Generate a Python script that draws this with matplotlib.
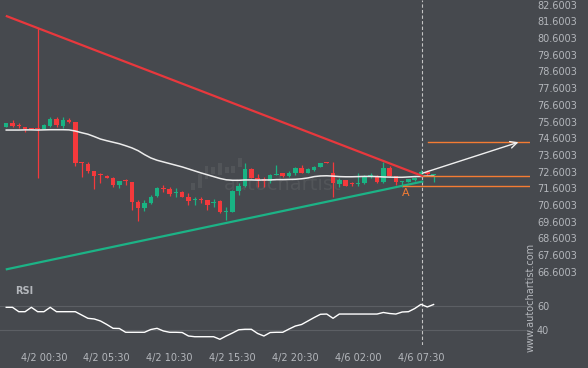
import matplotlib.pyplot as plt

# ---- data ----
opens = [75.29, 75.49, 75.37, 75.25, 75.21, 75.21, 75.13, 75.35, 75.73, 75.35,
         75.69, 75.57, 73.16, 73.06, 72.64, 72.46, 72.35, 72.22, 71.80, 72.08,
         71.98, 70.80, 70.40, 70.70, 71.14, 71.64, 71.54, 71.30, 71.38, 71.06,
         70.92, 70.93, 70.90, 70.70, 70.84, 70.20, 70.20, 71.46, 71.74, 72.76,
         72.20, 72.14, 72.05, 72.41, 72.50, 72.34, 72.53, 72.83, 72.53, 72.68,
         72.89, 73.15, 72.53, 71.86, 72.10, 71.90, 71.86, 71.90, 72.35, 72.34,
         72.00, 72.80, 72.34, 71.98, 72.00, 72.10, 72.29, 72.59, 72.38]
highs = [75.51, 75.69, 75.49, 75.25, 75.24, 81.20, 75.45, 75.85, 75.89, 75.85,
         75.83, 75.57, 73.19, 73.19, 72.64, 72.50, 72.40, 72.29, 72.04, 72.14,
         71.98, 70.90, 70.90, 71.20, 71.66, 71.78, 71.66, 71.60, 71.46, 71.30,
         71.10, 71.10, 70.90, 70.94, 70.90, 70.50, 71.50, 71.90, 73.13, 72.80,
         72.46, 72.26, 72.46, 73.00, 72.53, 72.65, 72.89, 73.00, 72.80, 72.94,
         73.13, 73.15, 73.19, 72.20, 72.10, 71.96, 72.53, 72.40, 72.53, 72.40,
         73.19, 72.94, 72.34, 72.05, 72.16, 72.29, 72.70, 72.70, 72.41]
lows = [75.27, 75.27, 75.19, 74.99, 75.15, 72.22, 75.13, 75.29, 75.29, 75.19,
        75.49, 72.95, 72.29, 72.50, 71.54, 71.93, 72.20, 71.66, 71.60, 71.80,
        70.30, 69.66, 70.26, 70.66, 71.10, 71.40, 71.14, 71.10, 71.06, 70.60,
        70.60, 70.70, 70.30, 70.50, 70.10, 69.70, 70.16, 71.20, 71.70, 72.20,
        71.66, 71.70, 71.90, 72.40, 72.29, 72.29, 72.40, 72.50, 72.50, 72.65,
        72.86, 73.12, 71.10, 71.70, 71.74, 71.75, 71.74, 71.86, 72.20, 71.90,
        71.90, 72.29, 71.80, 71.70, 71.96, 72.05, 72.26, 72.40, 72.00]
closes = [75.49, 75.35, 75.31, 75.15, 75.17, 75.15, 75.39, 75.75, 75.39, 75.69,
          75.55, 73.13, 73.12, 72.65, 72.34, 72.38, 72.23, 71.80, 72.04, 72.02,
          70.80, 70.40, 70.74, 71.10, 71.60, 71.58, 71.26, 71.38, 71.06, 70.86,
          70.98, 70.87, 70.60, 70.80, 70.20, 70.24, 71.46, 71.74, 72.76, 72.23,
          72.10, 72.05, 72.40, 72.46, 72.34, 72.53, 72.80, 72.53, 72.74, 72.86,
          73.10, 73.12, 71.90, 72.10, 71.75, 71.86, 71.90, 72.29, 72.40, 72.00,
          72.80, 72.35, 72.00, 72.02, 72.14, 72.23, 72.58, 72.45, 72.41]
moving_avg = [75.09, 75.09, 75.09, 75.10, 75.10, 75.09, 75.10, 75.11, 75.11, 75.11,
              75.10, 75.03, 74.93, 74.84, 74.70, 74.55, 74.45, 74.36, 74.27, 74.15,
              74.02, 73.85, 73.62, 73.42, 73.28, 73.18, 73.08, 72.98, 72.88, 72.76,
              72.64, 72.52, 72.41, 72.30, 72.19, 72.11, 72.08, 72.08, 72.10, 72.10,
              72.09, 72.10, 72.10, 72.12, 72.12, 72.13, 72.14, 72.17, 72.22, 72.30,
              72.34, 72.35, 72.33, 72.30, 72.29, 72.29, 72.30, 72.31, 72.31, 72.30,
              72.28, 72.27, 72.26, 72.26, 72.28, 72.30, 72.31, 72.33, 72.33]
rsi = [58.9, 58.9, 55.25, 55.25, 58.9, 55.25, 55.25, 58.9, 55.25, 55.25,
       55.25, 55.25, 52.5, 49.75, 49.2, 47.5, 44.6, 41.4, 41.25, 38.1,
       38.1, 38.1, 38.1, 40.4, 41.4, 39.2, 38.1, 38.1, 37.9, 35.0,
       34.4, 34.4, 34.4, 34.4, 32.25, 35.0, 37.5, 40.2, 40.6, 40.6,
       37.1, 35.0, 37.9, 38.1, 38.1, 40.8, 43.3, 44.6, 47.5, 50.4,
       53.1, 53.3, 49.75, 53.3, 53.3, 53.3, 53.3, 53.3, 53.3, 53.3,
       54.6, 53.75, 53.3, 55.0, 55.25, 57.9, 61.4, 59.2, 61.25]

date_pos = [6, 16, 26, 36, 46, 56, 66]
date_labels = ['4/2 00:30', '4/2 05:30', '4/2 10:30', '4/2 15:30',
               '4/2 20:30', '4/6 02:00', '4/6 07:30']
price_ticks = [66.6003 + k for k in range(17)]

# pattern lines (start/end in bar index, price)
resist_x, resist_y = [0.1, 66.2], [81.91, 72.34]
support_x, support_y = [0.1, 66.2], [66.75, 72.00]
level_hi, level_mid, level_lo = 74.36, 72.34, 71.72
arrow_from, arrow_to = (66.2, 72.50), (81.5, 74.36)
now_bar = 66.2

# faint logo bars of the watermark
logo_x = [29.7, 30.8, 31.9, 32.9, 34.0, 35.1, 36.1, 37.2]
logo_top = [71.92, 72.46, 72.94, 72.88, 73.12, 72.88, 72.94, 73.42]
logo_bot = [71.50, 71.62, 72.16, 72.46, 72.40, 72.52, 72.52, 72.88]

# ---- styling ----
bg = '#46494e'
txt = '#b4b7bc'
up_c = '#19b383'
dn_c = '#f4393c'
orange = '#f47c33'
wm = '#525559'

fig = plt.figure(figsize=(5.88, 3.68), dpi=100, facecolor=bg)
W, H = 588, 368
ax = fig.add_axes([0, 1 - 285 / H, 530 / W, 285 / H])
ax2 = fig.add_axes([0, 23 / H, 530 / W, 60 / H])
xlim = (-0.99, 83.34)
for a in (ax, ax2):
    a.set_facecolor(bg)
    a.set_xlim(*xlim)
    for s in a.spines.values():
        s.set_visible(False)
    a.yaxis.tick_right()
    a.tick_params(axis='y', length=0, pad=5, labelsize=7, labelcolor=txt)

ax.set_ylim(65.805, 82.882)
ax2.set_ylim(27.5, 77.5)

# watermark
ax.bar(logo_x, [t - b for t, b in zip(logo_top, logo_bot)], bottom=logo_bot,
       width=0.55, color=wm, zorder=0)
ax.text(44.0, 71.8, 'autochartist', fontsize=14, color=wm, ha='center',
        va='center', zorder=0)

# candles
xs = list(range(len(opens)))
for i in xs:
    o, h, l, c = opens[i], highs[i], lows[i], closes[i]
    col = up_c if c >= o else dn_c
    ax.vlines(i, l, h, color=col, lw=0.9, zorder=3)
    body = max(abs(c - o), 0.05)
    ax.bar(i, body, bottom=min(o, c), width=0.72, color=col, zorder=3)

ax.plot(xs, moving_avg, color='#ececec', lw=1.1, zorder=4)

# pattern
ax.plot(resist_x, resist_y, color='#e8383d', lw=1.6, zorder=5)
ax.plot(support_x, support_y, color='#1cb386', lw=1.6, zorder=5)
ax.plot([67.1, xlim[1]], [level_hi, level_hi], color=orange, lw=1.0, zorder=5)
ax.plot([66.3, xlim[1]], [level_mid, level_mid], color=orange, lw=1.0, zorder=5)
ax.plot([63.2, xlim[1]], [level_lo, level_lo], color=orange, lw=1.0, zorder=5)
ax.annotate('', xy=arrow_to, xytext=arrow_from,
            arrowprops=dict(arrowstyle='->', color='#f0f0f0', lw=1.0,
                            mutation_scale=12, shrinkA=0, shrinkB=0), zorder=6)
ax.text(63.6, 71.32, 'A', color=orange, fontsize=8, ha='center', va='center')

ax.set_yticks(price_ticks)
ax.set_yticklabels([f'{p:.4f}' for p in price_ticks])
ax.set_xticks([])

# RSI panel
for lvl in (40, 60):
    ax2.axhline(lvl, color='#5c5f64', lw=0.8, zorder=1)
ax2.plot(xs, rsi, color='white', lw=1, zorder=3)
ax2.set_yticks([40, 60])
ax2.set_xticks(date_pos)
ax2.set_xticklabels(date_labels)
ax2.tick_params(axis='x', length=0, pad=6, labelsize=7, labelcolor=txt)
ax2.text(15 / 530, 0.9, 'RSI', transform=ax2.transAxes, fontsize=7,
         fontweight='bold', color=txt, va='center')

for a in (ax, ax2):
    a.axvline(now_bar, color='#c4c4c4', lw=0.8, ls=(0, (3, 2)), zorder=2)

fig.text(531 / W, 1 - 297 / H, 'www.autochartist.com', rotation=90,
         fontsize=7, color=txt, ha='center', va='center')

fig.savefig('out.png', dpi=100, facecolor=bg)
